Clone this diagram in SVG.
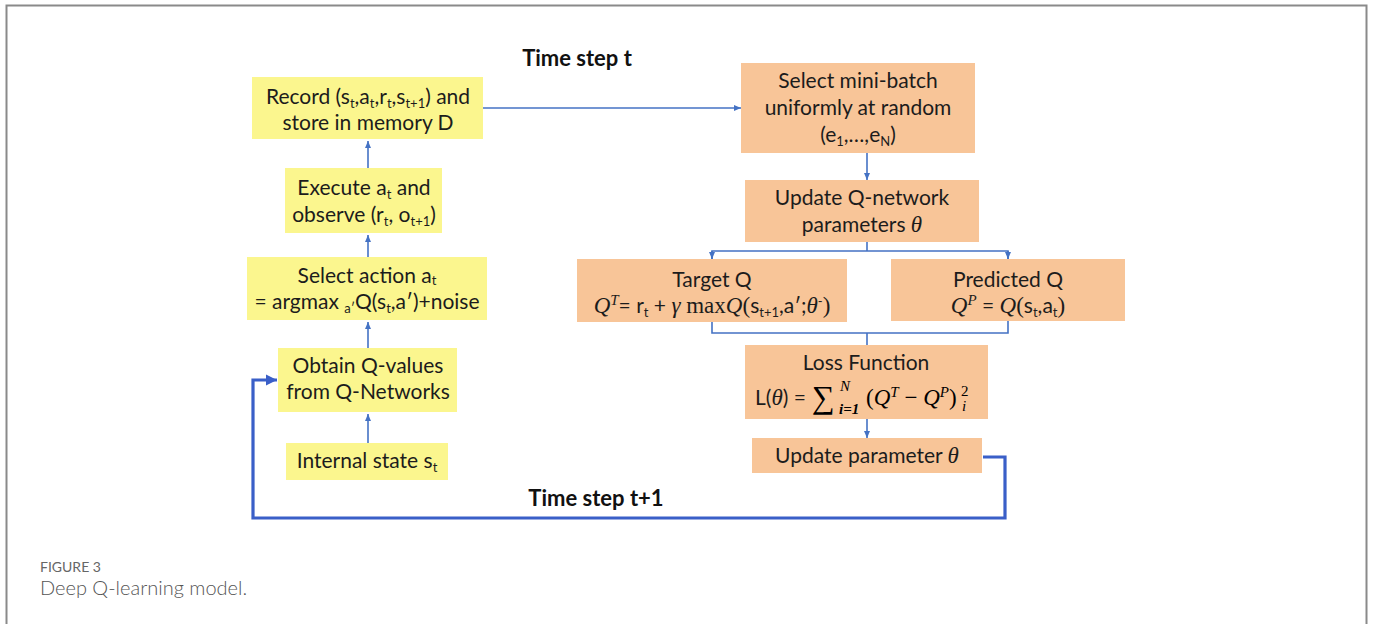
<svg xmlns="http://www.w3.org/2000/svg" width="1373" height="624" viewBox="0 0 1373 624">
  <style>
    .t { font-family: Lato, "Open Sans", sans-serif; font-size: 21px; fill: #1c1c1c; text-anchor: middle; }
    .b { font-family: Lato, "Open Sans", sans-serif; font-size: 22px; font-weight: bold; fill: #111; text-anchor: middle; }
    .sub { font-size: 13px; }
    .m { font-family: "Liberation Serif", "DejaVu Serif", serif; font-style: italic; font-size: 23px; }
    .mu { font-family: "Liberation Serif", "DejaVu Serif", serif; font-size: 23px; }
    .ms { font-family: "Liberation Serif", "DejaVu Serif", serif; font-style: italic; font-size: 15px; }
    .yel { fill: #fbf68e; }
    .org { fill: #f8c598; }
    .ln { fill: none; stroke: #4472c4; stroke-width: 1.6; }
    .loop { fill: none; stroke: #3a5fc8; stroke-width: 3.2; }
    .cap1 { font-family: Lato, "Open Sans", sans-serif; font-size: 14px; fill: #666; }
    .cap2 { font-family: Lato, "Open Sans", sans-serif; font-size: 20px; font-weight: 300; fill: #555; }
  </style>
  <defs>
    <marker id="ah" markerUnits="userSpaceOnUse" markerWidth="8" markerHeight="8" refX="7" refY="4" orient="auto">
      <path d="M0,1 L7,4 L0,7 Z" fill="#4472c4"/>
    </marker>
    <marker id="ahBig" markerUnits="userSpaceOnUse" markerWidth="12" markerHeight="12" refX="11" refY="6" orient="auto">
      <path d="M0,0.5 L11,6 L0,11.5 Z" fill="#3a5fc8"/>
    </marker>
  </defs>

  <rect width="1373" height="624" fill="#ffffff"/>
  <!-- figure frame -->
  <path d="M6.5,630 V5.5 H1366.5 V630" fill="none" stroke="#8a8a8a" stroke-width="2"/>

  <text class="b" x="577" y="66">Time step t</text>
  <text class="b" x="596" y="506">Time step t+1</text>

  <!-- connectors -->
  <g id="connectors">
    <line class="ln" x1="368" y1="168" x2="368" y2="141" marker-end="url(#ah)"/>
    <line class="ln" x1="368" y1="257" x2="368" y2="235" marker-end="url(#ah)"/>
    <line class="ln" x1="368" y1="348" x2="368" y2="322" marker-end="url(#ah)"/>
    <line class="ln" x1="368" y1="443" x2="368" y2="414" marker-end="url(#ah)"/>
    <line class="ln" x1="483" y1="108" x2="741" y2="108" marker-end="url(#ah)"/>
    <line class="ln" x1="867" y1="153" x2="867" y2="180" marker-end="url(#ah)"/>
    <path class="ln" d="M867,242 V251"/>
    <path class="ln" d="M712,259 V251 H1008 V259"/>
    <line class="ln" x1="712" y1="251" x2="712" y2="259" marker-end="url(#ah)"/>
    <line class="ln" x1="1008" y1="251" x2="1008" y2="259" marker-end="url(#ah)"/>
    <path class="ln" d="M712,322 V333 H1008 V321"/>
    <path class="ln" d="M867,333 V345"/>
    <line class="ln" x1="867" y1="419" x2="867" y2="438" marker-end="url(#ah)"/>
    <path class="loop" d="M983,457 H1005 V518 H253 V380 H277" marker-end="url(#ahBig)"/>
  </g>

  <g id="record">
    <rect class="yel" x="252" y="77" width="231" height="62"/>
    <text class="t" x="368" y="104">Record (s<tspan class="sub" dy="4">t</tspan><tspan dy="-4">,a</tspan><tspan class="sub" dy="4">t</tspan><tspan dy="-4">,r</tspan><tspan class="sub" dy="4">t</tspan><tspan dy="-4">,s</tspan><tspan class="sub" dy="4">t+1</tspan><tspan dy="-4">) and</tspan></text>
    <text class="t" x="368" y="130">store in memory D</text>
  </g>

  <g id="execute">
    <rect class="yel" x="285" y="168" width="157" height="65"/>
    <text class="t" x="364" y="195">Execute a<tspan class="sub" dy="4">t</tspan><tspan dy="-4"> and</tspan></text>
    <text class="t" x="364" y="222">observe (r<tspan class="sub" dy="4">t</tspan><tspan dy="-4">, o</tspan><tspan class="sub" dy="4">t+1</tspan><tspan dy="-4">)</tspan></text>
  </g>

  <g id="select-action">
    <rect class="yel" x="247" y="257" width="240" height="63"/>
    <text class="t" x="367" y="283">Select action a<tspan class="sub" dy="2">t</tspan></text>
    <text class="t" x="367" y="309">= argmax <tspan class="sub" dy="4">a′</tspan><tspan dy="-4">Q(s</tspan><tspan class="sub" dy="4">t</tspan><tspan dy="-4">,a′)+noise</tspan></text>
  </g>

  <g id="obtain">
    <rect class="yel" x="278" y="348" width="179" height="64"/>
    <text class="t" x="368" y="373">Obtain Q-values</text>
    <text class="t" x="368" y="399">from Q-Networks</text>
  </g>

  <g id="internal-state">
    <rect class="yel" x="286" y="443" width="162" height="37"/>
    <text class="t" x="367" y="468">Internal state s<tspan class="sub" dy="4">t</tspan></text>
  </g>

  <g id="mini-batch">
    <rect class="org" x="741" y="63" width="234" height="90"/>
    <text class="t" x="858" y="88">Select mini-batch</text>
    <text class="t" x="858" y="115">uniformly at random</text>
    <text class="t" x="858" y="142">(e<tspan class="sub" dy="4">1</tspan><tspan dy="-4">,…,e</tspan><tspan class="sub" dy="4">N</tspan><tspan dy="-4">)</tspan></text>
  </g>

  <g id="update-q-network">
    <rect class="org" x="745" y="180" width="234" height="62"/>
    <text class="t" x="862" y="205">Update Q-network</text>
    <text class="t" x="862" y="232">parameters <tspan class="m">θ</tspan></text>
  </g>

  <g id="target-q">
    <rect class="org" x="577" y="259" width="270" height="63"/>
    <text class="t" x="712" y="287">Target Q</text>
    <text class="t" x="712" y="313"><tspan class="m">Q</tspan><tspan class="ms" dy="-8">T</tspan><tspan dy="8">= r</tspan><tspan class="sub" dy="4">t</tspan><tspan dy="-4"> + </tspan><tspan class="m">γ</tspan><tspan class="mu"> max</tspan><tspan class="m">Q</tspan><tspan class="mu">(</tspan>s<tspan class="sub" dy="4">t+1</tspan><tspan dy="-4">,a′;</tspan><tspan class="m">θ</tspan><tspan class="sub" dy="-7">-</tspan><tspan class="mu" dy="7">)</tspan></text>
  </g>

  <g id="predicted-q">
    <rect class="org" x="891" y="259" width="234" height="62"/>
    <text class="t" x="1008" y="287">Predicted Q</text>
    <text class="t" x="1008" y="313"><tspan class="m">Q</tspan><tspan class="ms" dy="-8">P</tspan><tspan dy="8"> = </tspan><tspan class="m">Q</tspan><tspan class="mu">(</tspan>s<tspan class="sub" dy="4">t</tspan><tspan dy="-4">,a</tspan><tspan class="sub" dy="4">t</tspan><tspan class="mu" dy="-4">)</tspan></text>
  </g>

  <g id="loss-function">
    <rect class="org" x="745" y="345" width="243" height="74"/>
    <text class="t" x="866" y="370">Loss Function</text>
    <text class="t" x="755" y="405" style="text-anchor:start">L(<tspan class="m">θ</tspan>) = </text>
    <text class="mu" x="812" y="408" style="font-size:32px">∑</text>
    <text class="ms" x="840" y="391">N</text>
    <text class="ms" x="839" y="414" style="font-weight:bold">i=1</text>
    <text class="mu" x="866" y="405">(<tspan class="m">Q</tspan><tspan class="ms" dy="-8">T</tspan><tspan dy="8"> − </tspan><tspan class="m">Q</tspan><tspan class="ms" dy="-8">P</tspan><tspan dy="8">)</tspan></text>
    <text class="ms" x="961" y="396" style="font-style:normal">2</text>
    <text class="ms" x="962" y="411">i</text>
  </g>

  <g id="update-parameter">
    <rect class="org" x="752" y="438" width="230" height="35"/>
    <text class="t" x="867" y="463">Update parameter <tspan class="m">θ</tspan></text>
  </g>

  <text class="cap1" x="40" y="572">FIGURE 3</text>
  <text class="cap2" x="40" y="595">Deep Q-learning model.</text>
</svg>
